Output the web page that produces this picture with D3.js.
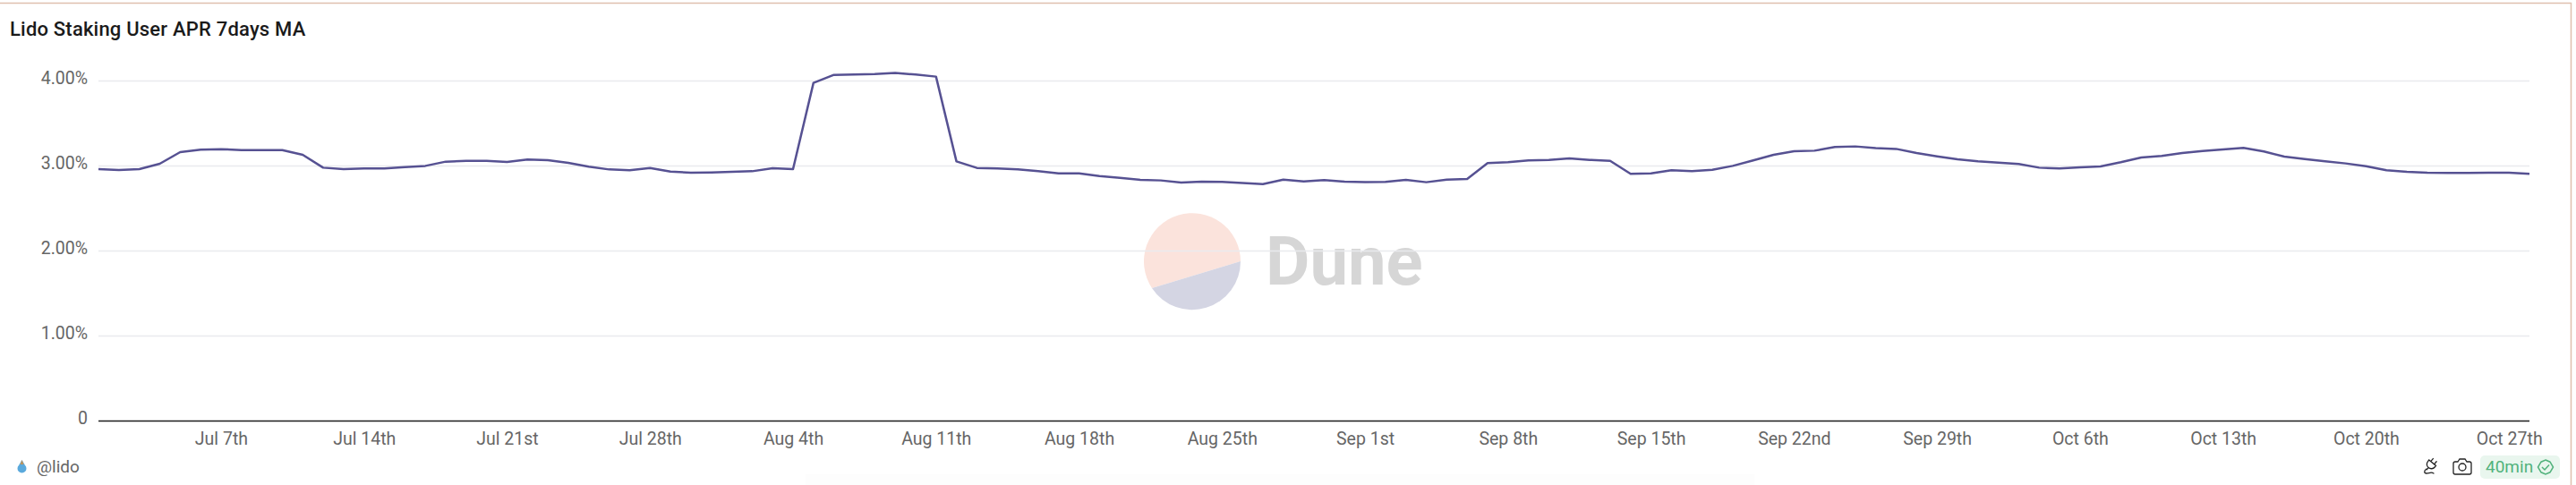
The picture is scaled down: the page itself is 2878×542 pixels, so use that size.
<!DOCTYPE html>
<html>
<head>
<meta charset="utf-8">
<title>Lido Staking User APR 7days MA</title>
<script src="https://cdn.jsdelivr.net/npm/d3@7"></script>
<style>
  html, body { margin: 0; padding: 0; background: #fff; overflow: hidden; }
  svg { display: block; }
  text { font-family: "Roboto", sans-serif; }
  .title { font-size: 22px; font-weight: 500; fill: #1a1a1a; letter-spacing: 0.2px; }
  .tick text { font-size: 19.5px; fill: #666; }
  .domain { display: none; }
</style>
</head>
<body>
<div id="chart"></div>
<script>
const title = 'Lido Staking User APR 7days MA';
const startDate = '2024-07-01'; // the series is daily from here on
const apr = [
  2.958, 2.947, 2.958, 3.021, 3.158, 3.186, 3.193, 3.182, 3.182, 3.182,
  3.126, 2.975, 2.958, 2.965, 2.965, 2.982, 2.996, 3.046, 3.056, 3.056,
  3.042, 3.070, 3.063, 3.032, 2.986, 2.954, 2.944, 2.972, 2.930, 2.916,
  2.919, 2.926, 2.933, 2.968, 2.958, 3.972, 4.067, 4.070, 4.077, 4.090,
  4.070, 4.046, 3.049, 2.972, 2.965, 2.954, 2.933, 2.909, 2.909, 2.877,
  2.856, 2.832, 2.825, 2.800, 2.810, 2.807, 2.796, 2.782, 2.835, 2.814,
  2.828, 2.810, 2.804, 2.807, 2.832, 2.804, 2.835, 2.842, 3.028, 3.039,
  3.060, 3.067, 3.084, 3.067, 3.056, 2.902, 2.909, 2.944, 2.933, 2.951,
  2.996, 3.060, 3.126, 3.168, 3.175, 3.218, 3.225, 3.204, 3.196, 3.147,
  3.109, 3.074, 3.049, 3.035, 3.018, 2.975, 2.965, 2.979, 2.989, 3.039,
  3.095, 3.112, 3.147, 3.172, 3.189, 3.207, 3.165, 3.105, 3.077, 3.049,
  3.025, 2.993, 2.944, 2.926, 2.916, 2.912, 2.912, 2.916, 2.916, 2.902
];
const yTicks = [0, 1, 2, 3, 4];
const xTickDates = [
  '2024-07-07', '2024-07-14', '2024-07-21', '2024-07-28', '2024-08-04',
  '2024-08-11', '2024-08-18', '2024-08-25', '2024-09-01', '2024-09-08',
  '2024-09-15', '2024-09-22', '2024-09-29', '2024-10-06', '2024-10-13',
  '2024-10-20', '2024-10-27'
];

const width = 2878;
const height = 542;
const margin = { top: 90, right: 52, bottom: 72, left: 110 };

const parseDate = d3.utcParse('%Y-%m-%d');
const dates = apr.map((d, i) => d3.utcDay.offset(parseDate(startDate), i));

const x = d3.scaleUtc()
  .domain(d3.extent(dates))
  .range([margin.left, width - margin.right]);
const y = d3.scaleLinear()
  .domain([0, 4])
  .range([height - margin.bottom, margin.top]);

// Jul 7th, Aug 1st, ...
function ordinal(n) {
  if (n % 100 >= 11 && n % 100 <= 13) return n + 'th';
  return n + ({ 1: 'st', 2: 'nd', 3: 'rd' }[n % 10] || 'th');
}
const formatDay = d => d3.utcFormat('%b ')(d) + ordinal(d.getUTCDate());
const formatPct = d => (d === 0 ? '0' : d3.format('.2f')(d) + '%');

const svg = d3.select('#chart').append('svg')
  .attr('width', width)
  .attr('height', height);

// faint smudge along the bottom edge of the screenshot
svg.append('rect')
  .attr('x', 900)
  .attr('y', 530)
  .attr('width', 1060)
  .attr('height', 12)
  .attr('fill', '#fdfdfd');

// card border, only top and right are inside the picture
svg.append('path')
  .attr('d', `M0,3.5H${width - 5.5}V${height}`)
  .attr('fill', 'none')
  .attr('stroke', '#dfc0ae')
  .attr('stroke-width', 1.5);

svg.append('text')
  .attr('class', 'title')
  .attr('x', 11)
  .attr('y', 40)
  .text(title);

// watermark goes under the grid
const mark = svg.append('g').attr('class', 'watermark');
mark.append('path')
  .attr('d', 'M1287,322A54,54 0 1 1 1386,292Z')
  .attr('fill', '#fbe3dc');
mark.append('path')
  .attr('d', 'M1386,292A54,54 0 0 1 1287,322Z')
  .attr('fill', '#d4d5e3');
mark.append('text')
  .attr('x', 1414)
  .attr('y', 318)
  .attr('font-size', 76)
  .attr('font-weight', 700)
  .attr('fill', '#d6d6d6')
  .text('Dune');

// y axis and grid
const yAxis = svg.append('g')
  .attr('transform', `translate(${margin.left},0)`)
  .call(d3.axisLeft(y)
    .tickValues(yTicks)
    .tickFormat(formatPct)
    .tickSize(-(width - margin.left - margin.right))
    .tickPadding(12));
yAxis.selectAll('.tick line')
  .attr('stroke', d => (d === 0 ? '#1c1c1c' : '#e9eaee'))
  .attr('stroke-width', 1.5);
yAxis.selectAll('.tick text').attr('dy', '0.18em');

// x axis, labels only
const xAxis = svg.append('g')
  .attr('transform', `translate(0,${height - margin.bottom})`)
  .call(d3.axisBottom(x)
    .tickValues(xTickDates.map(parseDate))
    .tickFormat(formatDay)
    .tickSize(0)
    .tickPadding(13));

const line = d3.line()
  .x((d, i) => x(dates[i]))
  .y(d => y(d));

svg.append('path')
  .datum(apr)
  .attr('fill', 'none')
  .attr('stroke', '#565192')
  .attr('stroke-width', 2.5)
  .attr('stroke-linejoin', 'round')
  .attr('d', line);

// footer
const footer = svg.append('g').attr('class', 'footer');
footer.append('path')
  .attr('d', 'M24.5,514L21,520A5,5 0 1 0 28,520Z')
  .attr('fill', '#5aa9dc');
footer.append('path')
  .attr('d', 'M24.5,514L22.5,519H26.5Z')
  .attr('fill', '#c0935a');
footer.append('text')
  .attr('x', 41)
  .attr('y', 528)
  .attr('font-size', 19)
  .attr('fill', '#666')
  .text('@lido');

// plug icon
const plug = footer.append('g')
  .attr('fill', 'none')
  .attr('stroke', '#222')
  .attr('stroke-width', 1.3)
  .attr('stroke-linecap', 'round');
plug.append('path')
  .attr('transform', 'translate(2717,518) rotate(40)')
  .attr('d', 'M-5,-1H5V1A5,5 0 0 1 -5,1ZM-2.5,-1V-5M2.5,-1V-5M0,6V9');
plug.append('path')
  .attr('d', 'M2711,524c-3,2 -3,5 0,5s5,-2 8,0');

// camera icon
footer.append('path')
  .attr('d', 'M2746,516l2,-3h6l2,3h3a2,2 0 0 1 2,2v10a2,2 0 0 1 -2,2h-16a2,2 0 0 1 -2,-2v-10a2,2 0 0 1 2,-2z')
  .attr('fill', 'none')
  .attr('stroke', '#222')
  .attr('stroke-width', 1.3);
footer.append('circle')
  .attr('cx', 2751)
  .attr('cy', 522)
  .attr('r', 4)
  .attr('fill', 'none')
  .attr('stroke', '#222')
  .attr('stroke-width', 1.3);

// freshness badge
footer.append('rect')
  .attr('x', 2771)
  .attr('y', 509)
  .attr('width', 89)
  .attr('height', 26)
  .attr('rx', 5)
  .attr('fill', '#e9f6ee');
footer.append('text')
  .attr('x', 2777)
  .attr('y', 528)
  .attr('font-size', 19)
  .attr('fill', '#52b27c')
  .text('40min');
footer.append('path')
  .attr('d', 'M2844,514l5,2.2 3.5,5.8 -3.5,5.8 -5,2.2 -5,-2.2 -3.5,-5.8 3.5,-5.8z')
  .attr('fill', 'none')
  .attr('stroke', '#52b27c')
  .attr('stroke-width', 1.5);
footer.append('path')
  .attr('d', 'M2840,522l3,3 5,-5.5')
  .attr('fill', 'none')
  .attr('stroke', '#52b27c')
  .attr('stroke-width', 1.5);
</script>
</body>
</html>
